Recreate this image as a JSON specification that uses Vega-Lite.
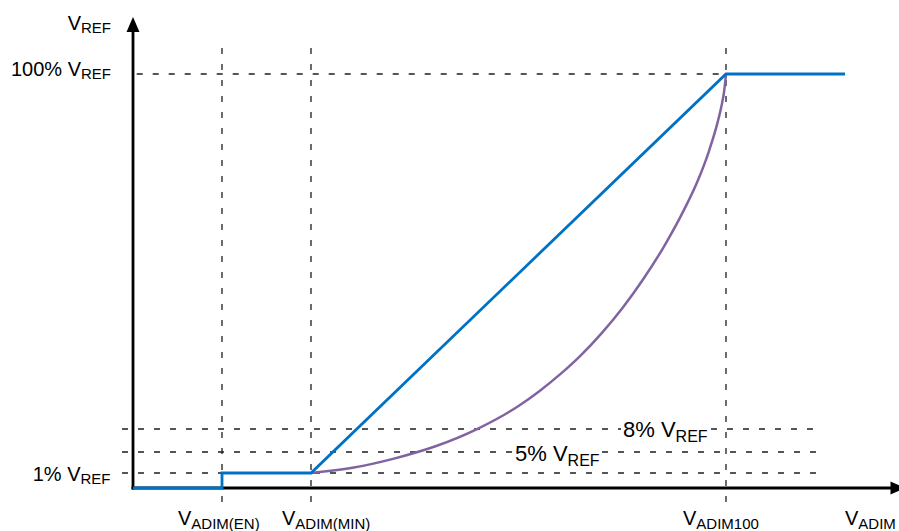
{
  "$schema": "https://vega.github.io/schema/vega-lite/v6.json",
  "width": 899,
  "height": 531,
  "padding": 0,
  "autosize": {"type": "none"},
  "background": "white",
  "config": {"view": {"stroke": null}},
  "datasets": {
    "grid": [
      {"x": 3.7, "x2": 593, "y": 414, "y2": 414},
      {"x": -11, "x2": 488, "y": 59, "y2": 59},
      {"x": 578, "x2": 684, "y": 59, "y2": 59},
      {"x": -11, "x2": 381, "y": 36, "y2": 36},
      {"x": 469, "x2": 684, "y": 36, "y2": 36},
      {"x": -11, "x2": 684, "y": 15, "y2": 15},
      {"x": 89, "x2": 89, "y": -14, "y2": 444},
      {"x": 178, "x2": 178, "y": -14, "y2": 444},
      {"x": 593, "x2": 593, "y": -14, "y2": 444}
    ],
    "axes": [
      {"x": 0, "x2": 0, "y": -1.5, "y2": 458},
      {"x": -1.5, "x2": 758, "y": 0, "y2": 0}
    ],
    "arrowUp": [{"x": 0, "y": 463.5}],
    "arrowRight": [{"x": 765, "y": 0}],
    "blue": [
      {"i": 1, "x": 0, "y": 0},
      {"i": 2, "x": 89, "y": 0},
      {"i": 3, "x": 89, "y": 15},
      {"i": 4, "x": 178, "y": 15},
      {"i": 5, "x": 593, "y": 414},
      {"i": 6, "x": 712, "y": 414}
    ],
    "purple": [
      {"x": 178, "y": 15},
      {"x": 219.5, "y": 20.2},
      {"x": 261, "y": 29.4},
      {"x": 302.5, "y": 41.7},
      {"x": 344, "y": 58.9},
      {"x": 385.5, "y": 82.0},
      {"x": 406.3, "y": 96.8},
      {"x": 427, "y": 113.6},
      {"x": 447.8, "y": 132.7},
      {"x": 468.5, "y": 154.7},
      {"x": 489.3, "y": 179.8},
      {"x": 510, "y": 208.5},
      {"x": 530.8, "y": 241.2},
      {"x": 551.5, "y": 279.1},
      {"x": 564, "y": 305.5},
      {"x": 576.4, "y": 338.2},
      {"x": 584.7, "y": 366.1},
      {"x": 588.9, "y": 384.1},
      {"x": 590.9, "y": 395.0},
      {"x": 593, "y": 414}
    ],
    "ylab": [
      {"x": -52, "y": 458.5, "main": "V", "sub": "REF"},
      {"x": -52, "y": 412, "main": "100% V", "sub": "REF"},
      {"x": -52.5, "y": 7.5, "main": "1% V", "sub": "REF"}
    ],
    "xlab": [
      {"x": 58.3, "y": -36.5, "main": "V", "sub": "ADIM(EN)"},
      {"x": 162.3, "y": -36.5, "main": "V", "sub": "ADIM(MIN)"},
      {"x": 563.3, "y": -36.5, "main": "V", "sub": "ADIM100"},
      {"x": 725.3, "y": -36.5, "main": "V", "sub": "ADIM"}
    ],
    "lvl": [
      {"x": 542.6, "y": 51.5, "main": "8% V", "sub": "REF"},
      {"x": 434.6, "y": 27.5, "main": "5% V", "sub": "REF"}
    ]
  },
  "layer": [
    {
      "data": {"name": "grid"},
      "mark": {"type": "rule", "color": "#1e1e1e", "strokeWidth": 1.3, "strokeDash": [6, 10]},
      "encoding": {
        "x": {"field": "x", "type": "quantitative", "scale": {"domain": [-133, 766], "nice": false, "zero": false}, "axis": null},
        "x2": {"field": "x2"},
        "y": {"field": "y", "type": "quantitative", "scale": {"domain": [-43, 488], "nice": false, "zero": false}, "axis": null},
        "y2": {"field": "y2"}
      }
    },
    {
      "data": {"name": "axes"},
      "mark": {"type": "rule", "color": "black", "strokeWidth": 2.8},
      "encoding": {
        "x": {"field": "x", "type": "quantitative", "scale": {"domain": [-133, 766], "nice": false, "zero": false}, "axis": null},
        "x2": {"field": "x2"},
        "y": {"field": "y", "type": "quantitative", "scale": {"domain": [-43, 488], "nice": false, "zero": false}, "axis": null},
        "y2": {"field": "y2"}
      }
    },
    {
      "data": {"name": "arrowUp"},
      "mark": {"type": "point", "shape": "M0,-1L0.867,1L-0.867,1Z", "filled": true, "color": "black", "opacity": 1, "size": 225, "strokeWidth": 0},
      "encoding": {
        "x": {"field": "x", "type": "quantitative", "scale": {"domain": [-133, 766], "nice": false, "zero": false}, "axis": null},
        "y": {"field": "y", "type": "quantitative", "scale": {"domain": [-43, 488], "nice": false, "zero": false}, "axis": null}
      }
    },
    {
      "data": {"name": "arrowRight"},
      "mark": {"type": "point", "shape": "M1,0L-1,-0.867L-1,0.867Z", "filled": true, "color": "black", "opacity": 1, "size": 225, "strokeWidth": 0},
      "encoding": {
        "x": {"field": "x", "type": "quantitative", "scale": {"domain": [-133, 766], "nice": false, "zero": false}, "axis": null},
        "y": {"field": "y", "type": "quantitative", "scale": {"domain": [-43, 488], "nice": false, "zero": false}, "axis": null}
      }
    },
    {
      "data": {"name": "purple"},
      "mark": {"type": "line", "color": "#8064A2", "strokeWidth": 2.5, "interpolate": "monotone"},
      "encoding": {
        "x": {"field": "x", "type": "quantitative", "scale": {"domain": [-133, 766], "nice": false, "zero": false}, "axis": null},
        "y": {"field": "y", "type": "quantitative", "scale": {"domain": [-43, 488], "nice": false, "zero": false}, "axis": null}
      }
    },
    {
      "data": {"name": "blue"},
      "mark": {"type": "line", "color": "#0072C6", "strokeWidth": 2.8},
      "encoding": {
        "x": {"field": "x", "type": "quantitative", "scale": {"domain": [-133, 766], "nice": false, "zero": false}, "axis": null},
        "y": {"field": "y", "type": "quantitative", "scale": {"domain": [-43, 488], "nice": false, "zero": false}, "axis": null},
        "order": {"field": "i", "type": "quantitative"}
      }
    },
    {
      "data": {"name": "ylab"},
      "mark": {"type": "text", "align": "right", "baseline": "alphabetic", "font": "Liberation Sans", "fontSize": 20, "color": "black"},
      "encoding": {
        "x": {"field": "x", "type": "quantitative", "scale": {"domain": [-133, 766], "nice": false, "zero": false}, "axis": null},
        "y": {"field": "y", "type": "quantitative", "scale": {"domain": [-43, 488], "nice": false, "zero": false}, "axis": null},
        "text": {"field": "main"}
      }
    },
    {
      "data": {"name": "ylab"},
      "mark": {"type": "text", "align": "left", "baseline": "alphabetic", "font": "Liberation Sans", "fontSize": 15, "dy": 3, "color": "black"},
      "encoding": {
        "x": {"field": "x", "type": "quantitative", "scale": {"domain": [-133, 766], "nice": false, "zero": false}, "axis": null},
        "y": {"field": "y", "type": "quantitative", "scale": {"domain": [-43, 488], "nice": false, "zero": false}, "axis": null},
        "text": {"field": "sub"}
      }
    },
    {
      "data": {"name": "xlab"},
      "mark": {"type": "text", "align": "right", "baseline": "alphabetic", "font": "Liberation Sans", "fontSize": 20, "color": "black"},
      "encoding": {
        "x": {"field": "x", "type": "quantitative", "scale": {"domain": [-133, 766], "nice": false, "zero": false}, "axis": null},
        "y": {"field": "y", "type": "quantitative", "scale": {"domain": [-43, 488], "nice": false, "zero": false}, "axis": null},
        "text": {"field": "main"}
      }
    },
    {
      "data": {"name": "xlab"},
      "mark": {"type": "text", "align": "left", "baseline": "alphabetic", "font": "Liberation Sans", "fontSize": 15, "dy": 4, "color": "black"},
      "encoding": {
        "x": {"field": "x", "type": "quantitative", "scale": {"domain": [-133, 766], "nice": false, "zero": false}, "axis": null},
        "y": {"field": "y", "type": "quantitative", "scale": {"domain": [-43, 488], "nice": false, "zero": false}, "axis": null},
        "text": {"field": "sub"}
      }
    },
    {
      "data": {"name": "lvl"},
      "mark": {"type": "text", "align": "right", "baseline": "alphabetic", "font": "Liberation Sans", "fontSize": 22, "color": "black"},
      "encoding": {
        "x": {"field": "x", "type": "quantitative", "scale": {"domain": [-133, 766], "nice": false, "zero": false}, "axis": null},
        "y": {"field": "y", "type": "quantitative", "scale": {"domain": [-43, 488], "nice": false, "zero": false}, "axis": null},
        "text": {"field": "main"}
      }
    },
    {
      "data": {"name": "lvl"},
      "mark": {"type": "text", "align": "left", "baseline": "alphabetic", "font": "Liberation Sans", "fontSize": 16, "dy": 5, "color": "black"},
      "encoding": {
        "x": {"field": "x", "type": "quantitative", "scale": {"domain": [-133, 766], "nice": false, "zero": false}, "axis": null},
        "y": {"field": "y", "type": "quantitative", "scale": {"domain": [-43, 488], "nice": false, "zero": false}, "axis": null},
        "text": {"field": "sub"}
      }
    }
  ]
}
